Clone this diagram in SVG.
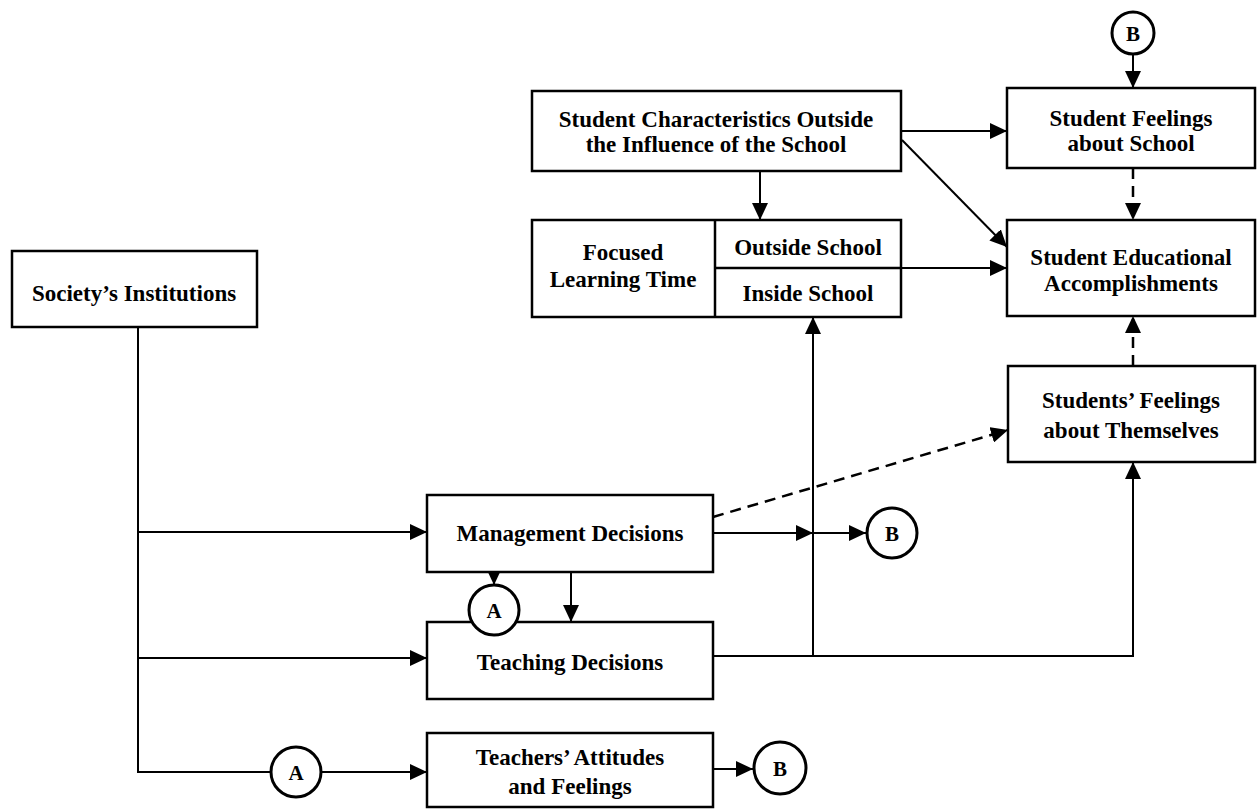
<svg xmlns="http://www.w3.org/2000/svg" width="1259" height="811" viewBox="0 0 1259 811">
<defs>
<style>
.box{fill:#fff;stroke:#000;stroke-width:2.5}
.ln{fill:none;stroke:#000;stroke-width:2}
.dash{fill:none;stroke:#000;stroke-width:2.5;stroke-dasharray:11 7}
.circ{fill:#fff;stroke:#000;stroke-width:3}
text{font-family:"Liberation Serif","Times New Roman",serif;font-weight:bold;font-size:23px;text-anchor:middle;fill:#000}
.ct{font-size:21px}
</style>
<marker id="ah" markerUnits="userSpaceOnUse" markerWidth="18" markerHeight="16" refX="17" refY="8" orient="auto">
<path d="M0,0 L17,8 L0,16 z" fill="#000"/>
</marker>
</defs>
<rect width="1259" height="811" fill="#fff"/>
<g id="connectors">
<line class="ln" x1="1133" y1="54" x2="1133" y2="88" marker-end="url(#ah)"/>
<line class="ln" x1="901" y1="131" x2="1007" y2="131" marker-end="url(#ah)"/>
<line class="ln" x1="902" y1="140" x2="1007" y2="247" marker-end="url(#ah)"/>
<line class="ln" x1="760" y1="171" x2="760" y2="220" marker-end="url(#ah)"/>
<line class="ln" x1="901" y1="268" x2="1007" y2="268" marker-end="url(#ah)"/>
<line class="dash" x1="1133" y1="168" x2="1133" y2="220" marker-end="url(#ah)"/>
<line class="dash" x1="1133" y1="366" x2="1133" y2="316" marker-end="url(#ah)"/>
<line class="dash" x1="713" y1="517" x2="1008" y2="430" marker-end="url(#ah)"/>
<polyline class="ln" points="138,327 138,772 271,772"/>
<line class="ln" x1="138" y1="532" x2="427" y2="532" marker-end="url(#ah)"/>
<line class="ln" x1="138" y1="658" x2="427" y2="658" marker-end="url(#ah)"/>
<line class="ln" x1="321" y1="772" x2="427" y2="772" marker-end="url(#ah)"/>
<line class="ln" x1="713" y1="533" x2="813" y2="533" marker-end="url(#ah)"/>
<line class="ln" x1="813" y1="533" x2="866" y2="533" marker-end="url(#ah)"/>
<line class="ln" x1="571" y1="572" x2="571" y2="622" marker-end="url(#ah)"/>
<line class="ln" x1="494" y1="571" x2="494" y2="585" marker-end="url(#ah)"/>
<polyline class="ln" points="713,656 1133,656 1133,462" marker-end="url(#ah)"/>
<line class="ln" x1="813" y1="656" x2="813" y2="317" marker-end="url(#ah)"/>
<line class="ln" x1="713" y1="769" x2="753" y2="769" marker-end="url(#ah)"/>
</g>
<g id="student-characteristics">
<rect class="box" x="532" y="91" width="369" height="80"/>
<text x="716" y="127">Student Characteristics Outside</text>
<text x="716" y="152">the Influence of the School</text>
</g>
<g id="student-feelings-school">
<rect class="box" x="1007" y="88" width="248" height="80"/>
<text x="1131" y="126">Student Feelings</text>
<text x="1131" y="151">about School</text>
</g>
<g id="focused-learning-time">
<rect class="box" x="532" y="220" width="369" height="97"/>
<line class="box" x1="715" y1="220" x2="715" y2="317"/>
<line class="box" x1="715" y1="268" x2="901" y2="268"/>
<text x="623" y="260">Focused</text>
<text x="623" y="287">Learning Time</text>
<text x="808" y="255">Outside School</text>
<text x="808" y="301">Inside School</text>
</g>
<g id="student-educational">
<rect class="box" x="1007" y="220" width="248" height="96"/>
<text x="1131" y="265">Student Educational</text>
<text x="1131" y="291">Accomplishments</text>
</g>
<g id="students-feelings-themselves">
<rect class="box" x="1008" y="366" width="247" height="96"/>
<text x="1131" y="408">Students’ Feelings</text>
<text x="1131" y="438">about Themselves</text>
</g>
<g id="society">
<rect class="box" x="12" y="251" width="245" height="76"/>
<text x="134" y="301">Society’s Institutions</text>
</g>
<g id="management">
<rect class="box" x="427" y="495" width="286" height="77"/>
<text x="570" y="541">Management Decisions</text>
</g>
<g id="teaching">
<rect class="box" x="427" y="622" width="286" height="77"/>
<text x="570" y="670">Teaching Decisions</text>
</g>
<g id="teachers-attitudes">
<rect class="box" x="427" y="733" width="286" height="74"/>
<text x="570" y="765">Teachers’ Attitudes</text>
<text x="570" y="794">and Feelings</text>
</g>
<g id="connector-b-top">
<circle class="circ" cx="1133" cy="33" r="21"/>
<text class="ct" x="1133" y="41">B</text>
</g>
<g id="connector-b-mid">
<circle class="circ" cx="892" cy="533" r="25"/>
<text class="ct" x="892" y="541">B</text>
</g>
<g id="connector-a-mid">
<circle class="circ" cx="494" cy="610" r="25"/>
<text class="ct" x="494" y="618">A</text>
</g>
<g id="connector-a-bottom">
<circle class="circ" cx="296" cy="772" r="25"/>
<text class="ct" x="296" y="780">A</text>
</g>
<g id="connector-b-bottom">
<circle class="circ" cx="780" cy="768" r="26"/>
<text class="ct" x="780" y="776">B</text>
</g>
</svg>
